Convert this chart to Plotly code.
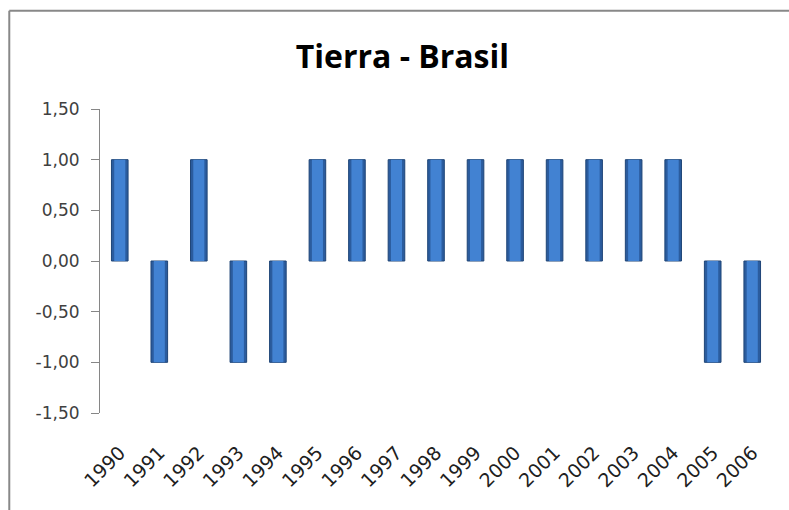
import plotly.graph_objects as go

years = [str(y) for y in range(1990, 2007)]
values = [1, -1, 1, -1, -1, 1, 1, 1, 1, 1, 1, 1, 1, 1, 1, -1, -1]
y_ticks = [-1.5, -1, -0.5, 0, 0.5, 1, 1.5]
y_tick_text = [f"{v:.2f}".replace('.', ',') for v in y_ticks]

fig = go.Figure()

# dark outer bar + lighter inner bar to fake the Excel bevel look
fig.add_trace(go.Bar(x=years, y=values, width=0.42,
                     marker=dict(color='#2b5c9e', line=dict(color='#1f4577', width=1)),
                     hoverinfo='skip', showlegend=False))
fig.add_trace(go.Bar(x=years, y=values, width=0.28,
                     marker=dict(color='#4282d2', line=dict(width=0)),
                     showlegend=False))

n = len(years)
fig.update_layout(
    width=789, height=510,
    margin=dict(l=100, r=17, t=109, b=97),
    paper_bgcolor='white', plot_bgcolor='white',
    barmode='overlay',
    font=dict(family='DejaVu Sans', color='#404040', size=16),
    title=dict(text='<b>Tierra - Brasil</b>', x=0.51, xanchor='center', y=0.888, yanchor='middle',
               font=dict(family='Open Sans', size=32, color='black')),
    xaxis=dict(type='category', categoryarray=years, range=[-0.5, n - 0.5],
               showline=False, showgrid=False, ticks='', tickangle=-45,
               ticklabelstandoff=24, tickfont=dict(size=19, color='#202020')),
    xaxis2=dict(overlaying='x', anchor='free', position=0.5, range=[-0.5, n - 0.5],
                showline=True, linecolor='#868686', linewidth=1,
                ticks='outside', ticklen=7, tickcolor='#868686',
                tickvals=[i + 0.5 for i in range(n)], showticklabels=False,
                showgrid=False, zeroline=False),
    yaxis=dict(range=[-1.5, 1.5], tickvals=y_ticks, ticktext=y_tick_text,
               showline=True, linecolor='#868686', linewidth=1,
               ticks='outside', ticklen=8, tickcolor='#868686',
               tickfont=dict(size=17, color='#404040'),
               showgrid=False, zeroline=False, ticklabelstandoff=8),
    shapes=[
        dict(type='line', xref='paper', yref='paper', x0=-0.135, x1=1.03, y0=1.323, y1=1.323,
             line=dict(color='#888888', width=2)),
        dict(type='line', xref='paper', yref='paper', x0=-0.135, x1=-0.135, y0=1.323, y1=-0.33,
             line=dict(color='#888888', width=2)),
    ],
)

# the page body has a default 8px margin; drop it so the figure sits at (0, 0)
fig.write_html("out.html", config={'displayModeBar': False},
               post_script="document.body.style.margin='0';")
